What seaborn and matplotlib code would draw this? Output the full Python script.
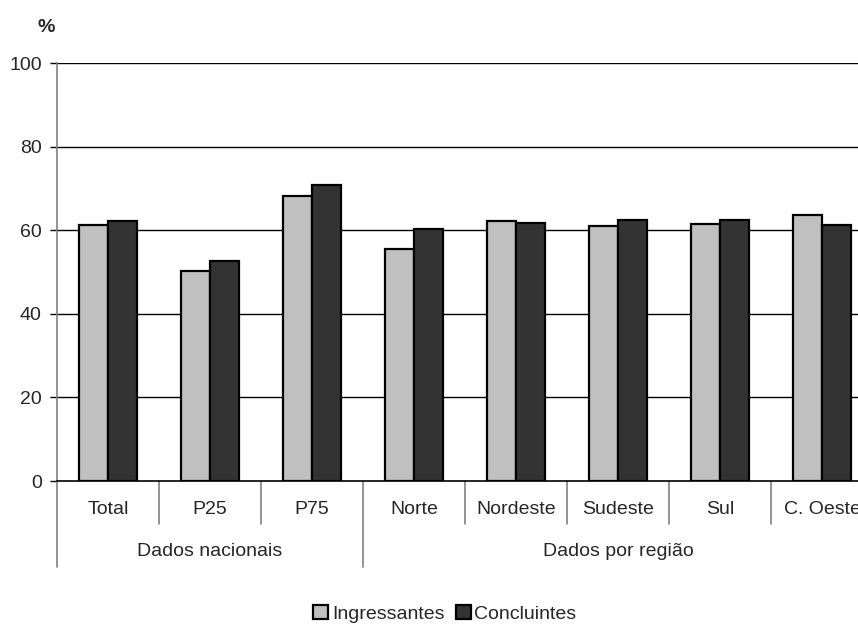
import pandas as pd
import seaborn as sns
import matplotlib.pyplot as plt
from matplotlib.patches import Patch

# Data
categories = ['Total', 'P25', 'P75', 'Norte', 'Nordeste', 'Sudeste', 'Sul', 'C. Oeste']
ingressantes = [61.3, 50.2, 68.3, 55.6, 62.1, 60.9, 61.4, 63.6]
concluintes = [62.2, 52.6, 70.9, 60.3, 61.8, 62.5, 62.5, 61.3]
series = ['Ingressantes', 'Concluintes']
groups = ['Dados nacionais', 'Dados por região']
group_sizes = [3, 5]
yticks = [0, 20, 40, 60, 80, 100]

df = pd.DataFrame({
    'categoria': categories * 2,
    'valor': ingressantes + concluintes,
    'grupo': [series[0]] * len(categories) + [series[1]] * len(categories),
})

sns.set_style('white')
plt.rcParams['font.family'] = ['Liberation Sans', 'DejaVu Sans']

fig = plt.figure(figsize=(8.58, 6.26), dpi=100)
ax = fig.add_axes([57 / 858, 145 / 626, 816 / 858, 418 / 626])

colors = {'Ingressantes': '#c0c0c0', 'Concluintes': '#333333'}
sns.barplot(data=df, x='categoria', y='valor', hue='grupo', order=categories,
            hue_order=series, palette=colors, width=0.57, edgecolor='black',
            linewidth=1.6, ax=ax, legend=False, zorder=3)

# Axis styling
ax.set_xlim(-0.5, len(categories) - 0.5)
ax.set_ylim(0, 100)
ax.set_yticks(yticks)
ax.set_yticklabels([str(t) for t in yticks], fontsize=14)
ax.tick_params(axis='y', direction='out', length=5, width=1, color='black', pad=6, left=True)
ax.set_xticks([])
ax.set_xlabel('')
ax.set_ylabel('')
for t in yticks[1:]:
    ax.axhline(t, color='black', lw=1, zorder=1)
for s in ['top', 'right']:
    ax.spines[s].set_visible(False)
ax.spines['left'].set_color('#808080')
ax.spines['left'].set_linewidth(1.2)
ax.spines['bottom'].set_color('black')
ax.spines['bottom'].set_linewidth(1.2)

# Category labels and dividers below the axis
trans = ax.get_xaxis_transform()
for i, c in enumerate(categories):
    ax.text(i, -0.069, c, transform=trans, ha='center', va='center', fontsize=14)

boundaries = []
start = 0
for g, n in zip(groups, group_sizes):
    ax.text(start + (n - 1) / 2, -0.169, g, transform=trans, ha='center', va='center', fontsize=14)
    boundaries.append(start - 0.5)
    start += n
for i in range(1, len(categories)):
    b = i - 0.5
    bottom = -0.206 if b in boundaries else -0.103
    ax.plot([b, b], [0, bottom], transform=trans, color='#808080', lw=1.2, clip_on=False)
ax.plot([-0.5, -0.5], [0, -0.206], transform=trans, color='#808080', lw=1.2, clip_on=False)

# Unit label
fig.text(46 / 858, 1 - 28 / 626, '%', ha='center', va='center', fontsize=14, fontweight='bold')

# Legend
handles = [Patch(facecolor=colors[s], edgecolor='black', linewidth=1.6) for s in series]
fig.legend(handles, series, loc='center', bbox_to_anchor=(445 / 858, 1 - 614 / 626),
           ncol=2, frameon=False, fontsize=14, handlelength=0.75, handleheight=0.75,
           handletextpad=0.2, columnspacing=0.6)

fig.savefig('out.png', dpi=100)
